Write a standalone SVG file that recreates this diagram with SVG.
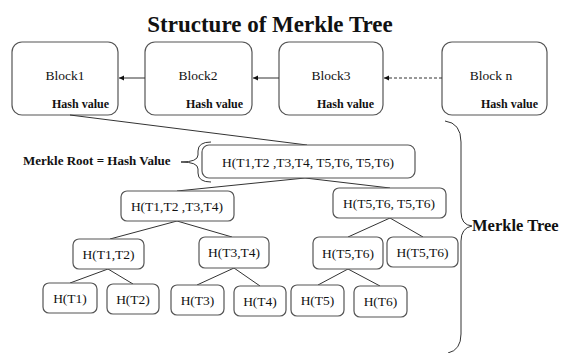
<svg xmlns="http://www.w3.org/2000/svg" width="562" height="353" viewBox="0 0 562 353" font-family="'Liberation Serif', 'Times New Roman', serif">
<style>
  .blk{fill:#fff;stroke:#555;stroke-width:1.2}
  .nd{fill:#fff;stroke:#555;stroke-width:1.2}
  .t{font-family:"Liberation Serif","Times New Roman",serif;fill:#111}
  .bt{font-size:13.5px;text-anchor:middle}
  .hv{font-size:12px;font-weight:bold;text-anchor:end}
  .nt{font-size:13.5px;text-anchor:middle}
  .ln{stroke:#333;stroke-width:1;fill:none}
</style>
<defs>
  <marker id="ah" markerWidth="6" markerHeight="6" refX="5" refY="3" orient="auto" markerUnits="userSpaceOnUse">
    <path d="M0,0.5 L5,3 L0,5.5 Z" fill="#111"/>
  </marker>
</defs>
<rect width="562" height="353" fill="#fff"/>
<text class="t" x="270" y="32" font-size="23" font-weight="bold" text-anchor="middle">Structure of Merkle Tree</text>

<g id="block1"><rect class="blk" x="12" y="42" width="106" height="73" rx="10"/><text class="t bt" x="65" y="80">Block1</text><text class="t hv" x="109" y="108">Hash value</text></g>
<g id="block2"><rect class="blk" x="145" y="42" width="107" height="73" rx="10"/><text class="t bt" x="198" y="80">Block2</text><text class="t hv" x="243" y="108">Hash value</text></g>
<g id="block3"><rect class="blk" x="279" y="42" width="104" height="73" rx="10"/><text class="t bt" x="331" y="80">Block3</text><text class="t hv" x="374" y="108">Hash value</text></g>
<g id="blockn"><rect class="blk" x="442" y="42" width="105" height="73" rx="10"/><text class="t bt" x="491" y="80">Block n</text><text class="t hv" x="538" y="108">Hash value</text></g>

<g id="connectors">
  <line class="ln" x1="145" y1="78" x2="119" y2="78" marker-end="url(#ah)"/>
  <line class="ln" x1="279" y1="78" x2="253" y2="78" marker-end="url(#ah)"/>
  <line class="ln" x1="442" y1="78" x2="384" y2="78" stroke-dasharray="3,2" marker-end="url(#ah)"/>
  <line class="ln" x1="70" y1="115" x2="307" y2="145"/>
  <line class="ln" x1="305" y1="178" x2="177" y2="191"/>
  <line class="ln" x1="305" y1="178" x2="390" y2="188"/>
  <line class="ln" x1="177" y1="221" x2="110" y2="239"/>
  <line class="ln" x1="177" y1="221" x2="232" y2="237"/>
  <line class="ln" x1="390" y1="218" x2="348" y2="237"/>
  <line class="ln" x1="390" y1="218" x2="423" y2="237"/>
  <line class="ln" x1="108" y1="269" x2="70" y2="283"/>
  <line class="ln" x1="108" y1="269" x2="133" y2="284"/>
  <line class="ln" x1="234" y1="268" x2="197" y2="285"/>
  <line class="ln" x1="234" y1="268" x2="260" y2="286"/>
  <line class="ln" x1="348" y1="269" x2="318" y2="285"/>
  <line class="ln" x1="348" y1="269" x2="380" y2="286"/>
</g>

<g id="root"><rect class="nd" x="202" y="145" width="213" height="33" rx="7"/><text class="t nt" x="308" y="167">H(T1,T2 ,T3,T4, T5,T6, T5,T6)</text></g>
<g id="rootlabel">
  <text class="t" x="23" y="165" font-size="13" font-weight="bold">Merkle Root = Hash Value</text>
  <path class="ln" d="M211,142 Q198,142 198,151 L198,155 Q198,162 181,162 Q198,162 198,169 L198,173 Q198,182 211,182"/>
</g>
<g id="h1234"><rect class="nd" x="121" y="191" width="113" height="30" rx="6"/><text class="t nt" x="177" y="211">H(T1,T2 ,T3,T4)</text></g>
<g id="h5656"><rect class="nd" x="333" y="188" width="113" height="30" rx="6"/><text class="t nt" x="389" y="208">H(T5,T6, T5,T6)</text></g>
<g id="h12"><rect class="nd" x="73" y="239" width="71" height="30" rx="6"/><text class="t nt" x="108.5" y="259">H(T1,T2)</text></g>
<g id="h34"><rect class="nd" x="199" y="237" width="70" height="31" rx="6"/><text class="t nt" x="234" y="257">H(T3,T4)</text></g>
<g id="h56a"><rect class="nd" x="313" y="237" width="70" height="32" rx="6"/><text class="t nt" x="348" y="258">H(T5,T6)</text></g>
<g id="h56b"><rect class="nd" x="387" y="237" width="71" height="30" rx="6"/><text class="t nt" x="422.5" y="257">H(T5,T6)</text></g>
<g id="h1"><rect class="nd" x="43" y="283" width="54" height="30" rx="6"/><text class="t nt" x="70" y="303">H(T1)</text></g>
<g id="h2"><rect class="nd" x="107" y="284" width="52" height="30" rx="6"/><text class="t nt" x="133" y="304">H(T2)</text></g>
<g id="h3"><rect class="nd" x="171" y="285" width="53" height="30" rx="6"/><text class="t nt" x="197.5" y="305">H(T3)</text></g>
<g id="h4"><rect class="nd" x="234" y="286" width="52" height="30" rx="6"/><text class="t nt" x="260" y="306">H(T4)</text></g>
<g id="h5"><rect class="nd" x="291" y="285" width="53" height="31" rx="6"/><text class="t nt" x="317.5" y="305">H(T5)</text></g>
<g id="h6"><rect class="nd" x="354" y="286" width="53" height="31" rx="6"/><text class="t nt" x="380.5" y="306">H(T6)</text></g>

<g id="treebrace">
  <path class="ln" d="M445,121 Q461,123 461,142 L461,212 Q461,225 472,226 Q461,228 461,241 L461,334 Q461,350 448,353"/>
  <text class="t" x="472" y="231" font-size="16.5" font-weight="bold">Merkle Tree</text>
</g>
</svg>
